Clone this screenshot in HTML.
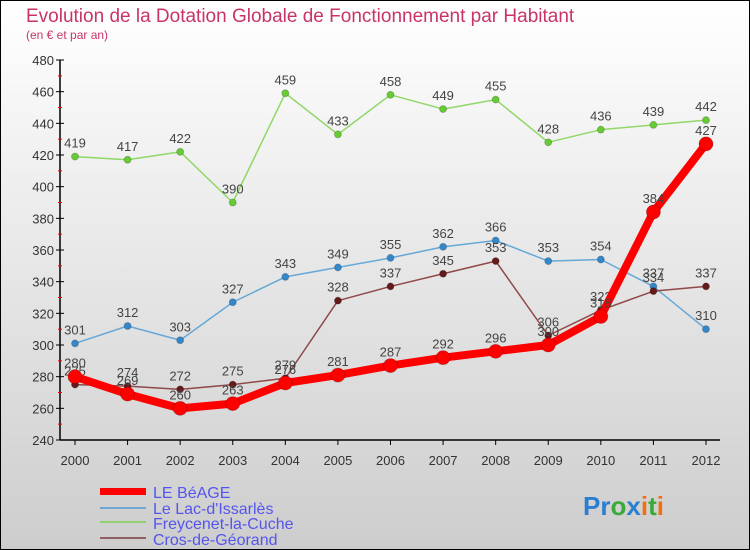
<!DOCTYPE html>
<html><head><meta charset="utf-8"><style>
body{margin:0;width:750px;height:550px;overflow:hidden;font-family:"Liberation Sans",sans-serif}
svg{display:block}
</style></head><body>
<svg id="chart" width="750" height="550">
<defs><linearGradient id="bg" x1="0" y1="0" x2="0" y2="1"><stop offset="0" stop-color="#ffffff"/><stop offset="1" stop-color="#cdcdcd"/></linearGradient></defs>
<rect x="0.5" y="0.5" width="749" height="549" fill="url(#bg)" stroke="#000"/>
<text x="26" y="22" font-size="19" fill="#c8346a">Evolution de la Dotation Globale de Fonctionnement par Habitant</text>
<text x="26" y="39" font-size="12" fill="#c8346a">(en € et par an)</text>
<g id="axes"></g><g id="series"></g>
<g>
<rect x="100" y="488" width="46" height="7" fill="#ff0000"/>
<text x="153" y="498" font-size="16" fill="#5555ee">LE BéAGE</text>
<line x1="100" y1="508" x2="146" y2="508" stroke="#6fa8d0" stroke-width="2"/>
<text x="153" y="514" font-size="16" fill="#5555ee">Le Lac-d'Issarlès</text>
<line x1="100" y1="522" x2="146" y2="522" stroke="#90d070" stroke-width="2"/>
<text x="153" y="529" font-size="16" fill="#5555ee">Freycenet-la-Cuche</text>
<line x1="100" y1="538" x2="146" y2="538" stroke="#906060" stroke-width="2"/>
<text x="153" y="545" font-size="16" fill="#5555ee">Cros-de-Géorand</text>
</g>
<text x="583" y="515" font-size="26" font-weight="bold"><tspan fill="#2a7fd0">Pr</tspan><tspan fill="#3aaa3a">o</tspan><tspan fill="#2a7fd0">x</tspan><tspan fill="#f07010">i</tspan><tspan fill="#3aaa3a">t</tspan><tspan fill="#f07010">i</tspan></text>
</svg>
<script>
const years=[2000,2001,2002,2003,2004,2005,2006,2007,2008,2009,2010,2011,2012];
const yTicks=[240,260,280,300,320,340,360,380,400,420,440,460,480];
const beage=[280,269,260,263,276,281,287,292,296,300,318,384,427];
const lac=[301,312,303,327,343,349,355,362,366,353,354,337,310];
const freycenet=[419,417,422,390,459,433,458,449,455,428,436,439,442];
const cros=[275,274,272,275,279,328,337,345,353,306,322,334,337];
const NS="http://www.w3.org/2000/svg";
const x=i=>75+i*(706-75)/(years.length-1);
const y=v=>440-(v-240)*(380/240);
function mk(tag,attrs,parent){const e=document.createElementNS(NS,tag);for(const k in attrs)e.setAttribute(k,attrs[k]);parent.appendChild(e);return e;}
const axes=document.getElementById('axes');
let a=mk('line',{x1:60,y1:60,x2:60,y2:440,stroke:'#000','stroke-width':1.5},axes);


a=mk('line',{x1:60,y1:440,x2:720,y2:440,stroke:'#000','stroke-width':1.5},axes);


yTicks.forEach((t,i)=>{
  mk('line',{x1:56,y1:y(t),x2:64,y2:y(t),stroke:'#000'},axes);
  if(i<yTicks.length-1)mk('line',{x1:58,y1:y(t+10),x2:62,y2:y(t+10),stroke:'#e00'},axes);
  const tx=mk('text',{x:54,y:y(t)+5,'font-size':13,'text-anchor':'end',fill:'#333'},axes);
  tx.textContent=t;
  
  
});
years.forEach((yr,i)=>{
  mk('line',{x1:x(i),y1:440,x2:x(i),y2:445,stroke:'#000'},axes);
  const tx=mk('text',{x:x(i),y:465,'font-size':13,'text-anchor':'middle',fill:'#333'},axes);
  tx.textContent=yr;
  
  
});
const sg=document.getElementById('series');
function draw(vals,name,color,w,r,dot){
  const g=mk('g',{},sg);
  
  
  const p=mk('polyline',{points:vals.map((v,i)=>x(i)+','+y(v)).join(' '),fill:'none',stroke:color,'stroke-width':w,'stroke-linejoin':'round'},g);
  
  
  vals.forEach((v,i)=>{
    const c=mk('circle',{cx:x(i),cy:y(v),r:r,fill:dot,stroke:'rgba(0,0,0,0.2)'},g);
    
    
    const t=mk('text',{x:x(i),y:y(v)-9,'font-size':13,'text-anchor':'middle',fill:'#444'},g);
    t.textContent=v;
    
    
  });
}
draw(freycenet,'freycenet','#90d868',1.5,3.5,'#66cc33');
draw(lac,'lac','#66a8d8',1.5,3.5,'#3388cc');
draw(cros,'cros','#904848',1.5,3.5,'#661a1a');
draw(beage,'le-beage','#ff0000',8,7,'#ff0000');
</script>
</body></html>
